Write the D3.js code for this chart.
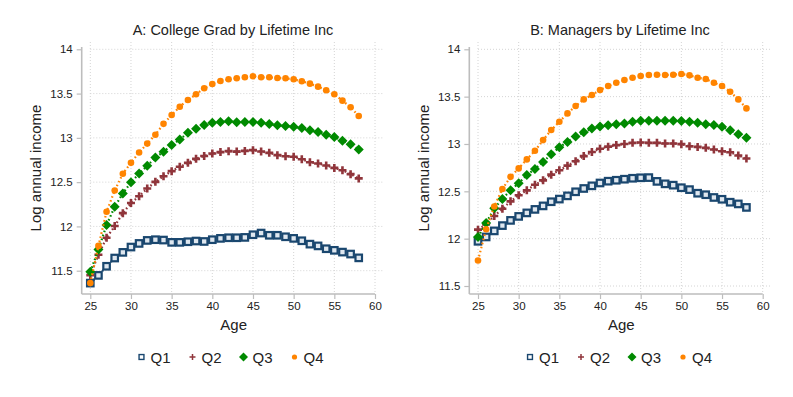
<!DOCTYPE html>
<html>
<head>
<meta charset="utf-8">
<script src="https://cdn.jsdelivr.net/npm/d3@7"></script>
<style>
  body { margin: 0; background: #fff; }
  text { font-family: "Liberation Sans", Arial, Helvetica, sans-serif; fill: #222; }
</style>
</head>
<body>
<div id="chart"></div>
<script>
// Data (log annual income by age, lifetime income quartile)

let ages = [25, 26, 27, 28, 29, 30, 31, 32, 33, 34, 35, 36, 37, 38, 39, 40, 41,
            42, 43, 44, 45, 46, 47, 48, 49, 50, 51, 52, 53, 54, 55, 56, 57, 58];

// Panel A: College grads
let gradQ1 = [11.36, 11.447, 11.55, 11.643, 11.707, 11.767, 11.808, 11.842, 11.85, 11.846, 11.82, 11.82,
              11.827, 11.835, 11.83, 11.85, 11.865, 11.872, 11.872, 11.876, 11.906, 11.925, 11.90, 11.90,
              11.883, 11.865, 11.838, 11.80, 11.78, 11.748, 11.73, 11.71, 11.688, 11.645];
let gradQ2 = [11.45, 11.68, 11.872, 12.004, 12.15, 12.265, 12.34, 12.428, 12.503, 12.567, 12.624, 12.673,
              12.718, 12.763, 12.795, 12.823, 12.839, 12.85, 12.845, 12.853, 12.861, 12.846, 12.831, 12.805,
              12.793, 12.786, 12.759, 12.725, 12.71, 12.688, 12.661, 12.635, 12.59, 12.542];
let gradQ3 = [11.487, 11.74, 12.015, 12.222, 12.372, 12.498, 12.597, 12.684, 12.778, 12.842, 12.918, 12.982,
              13.057, 13.104, 13.144, 13.17, 13.18, 13.188, 13.176, 13.18, 13.178, 13.17, 13.157, 13.142,
              13.135, 13.125, 13.11, 13.085, 13.065, 13.035, 13.01, 12.968, 12.927, 12.869];
let gradQ4 = [11.36, 11.78, 12.165, 12.405, 12.595, 12.718, 12.835, 12.935, 13.035, 13.158, 13.258, 13.352,
              13.428, 13.492, 13.56, 13.608, 13.642, 13.661, 13.673, 13.684, 13.695, 13.684, 13.684, 13.676,
              13.673, 13.661, 13.639, 13.612, 13.578, 13.537, 13.492, 13.42, 13.345, 13.247];

// Panel B: Managers
let mgrQ1 = [11.972, 12.018, 12.082, 12.138, 12.193, 12.235, 12.272, 12.309, 12.346, 12.39, 12.418, 12.452,
             12.495, 12.53, 12.558, 12.588, 12.607, 12.617, 12.628, 12.638, 12.643, 12.645, 12.605, 12.579,
             12.565, 12.538, 12.518, 12.48, 12.464, 12.435, 12.416, 12.385, 12.367, 12.33];
let mgrQ2 = [12.095, 12.15, 12.239, 12.316, 12.394, 12.458, 12.51, 12.57, 12.616, 12.676, 12.722, 12.771,
             12.817, 12.872, 12.915, 12.95, 12.972, 12.988, 13.0, 13.012, 13.015, 13.012, 13.012, 13.005,
             13.005, 12.998, 12.976, 12.969, 12.959, 12.941, 12.923, 12.913, 12.878, 12.846];
let mgrQ3 = [12.018, 12.166, 12.32, 12.42, 12.51, 12.586, 12.672, 12.735, 12.81, 12.892, 12.965, 13.022,
             13.079, 13.123, 13.164, 13.185, 13.198, 13.209, 13.216, 13.234, 13.245, 13.245, 13.245, 13.245,
             13.245, 13.243, 13.234, 13.224, 13.209, 13.2, 13.181, 13.146, 13.103, 13.067];
let mgrQ4 = [11.77, 12.1, 12.34, 12.525, 12.653, 12.742, 12.837, 12.928, 13.041, 13.147, 13.235, 13.323,
             13.401, 13.471, 13.517, 13.57, 13.612, 13.647, 13.675, 13.7, 13.718, 13.728, 13.731, 13.728,
             13.731, 13.739, 13.725, 13.7, 13.686, 13.647, 13.612, 13.552, 13.471, 13.376];

let seriesNames = ["Q1", "Q2", "Q3", "Q4"];
let xTicks = [25, 30, 35, 40, 45, 50, 55, 60];
let yTicks = [11.5, 12, 12.5, 13, 13.5, 14];
let yTickLabels = ["11.5", "12", "12.5", "13", "13.5", "14"];

// colors = [Q1, Q2, Q3, Q4]
let colors = ['#1a476f', '#90353b', '#008a00', '#ff8400'];

let svg = d3.select('#chart').append('svg')
    .attr('width', 793)
    .attr('height', 397)
    .attr('xmlns', 'http://www.w3.org/2000/svg');

svg.append('rect').attr('width', 793).attr('height', 397).attr('fill', '#fff');

let drawMarker = function(g, kind, color, x, y, big){
    /* Stata-like markers: hollow square, plus, diamond, dot */
    let s = big ? 1 : 0.75;
    if(kind === 0){
        let w = 6.5 * s;
        g.append('rect')
            .attr('x', x - w/2).attr('y', y - w/2)
            .attr('width', w).attr('height', w)
            .attr('fill', big ? '#dfe7ef' : '#fff')
            .attr('stroke', color)
            .attr('stroke-width', big ? 2.2 : 1.4);
    } else if(kind === 1){
        let a = 4 * s;
        g.append('path')
            .attr('d', 'M' + (x - a) + ',' + y + 'H' + (x + a) + 'M' + x + ',' + (y - a) + 'V' + (y + a))
            .attr('stroke', color)
            .attr('stroke-width', big ? 2.6 : 1.5)
            .attr('fill', 'none');
    } else if(kind === 2){
        let a = big ? 5 : 4.5;
        g.append('path')
            .attr('d', 'M' + x + ',' + (y - a) + 'L' + (x + a) + ',' + y + 'L' + x + ',' + (y + a) + 'L' + (x - a) + ',' + y + 'Z')
            .attr('fill', color);
    } else {
        g.append('circle')
            .attr('cx', x).attr('cy', y)
            .attr('r', big ? 3.3 : 2.6)
            .attr('fill', color);
    }
};

let drawPanel = function(p){
    let x = d3.scaleLinear().domain([25, 60]).range([p.x25, p.x60]);
    let y = d3.scaleLinear().domain([11.5, 14]).range([p.y115, p.y14]);
    let g = svg.append('g');

    // grid
    g.selectAll('.hgrid').data(yTicks).enter().append('line')
        .attr('x1', p.x25).attr('x2', p.gridRight)
        .attr('y1', d => y(d)).attr('y2', d => y(d))
        .attr('stroke', '#d4d4d4').attr('stroke-width', 1)
        .attr('stroke-dasharray', '1,2');
    g.selectAll('.vgrid').data(xTicks).enter().append('line')
        .attr('x1', d => x(d)).attr('x2', d => x(d))
        .attr('y1', p.top).attr('y2', p.bottom)
        .attr('stroke', '#d4d4d4').attr('stroke-width', 1)
        .attr('stroke-dasharray', '1,2');

    // axes
    let yAxis = g.append('g')
        .attr('transform', 'translate(' + p.axisX + ',0)')
        .call(d3.axisLeft(y).tickValues(yTicks).tickSize(5).tickPadding(4)
              .tickFormat((d, i) => yTickLabels[i]));
    yAxis.select('.domain').attr('d', 'M0,' + (p.top + 5) + 'V' + p.bottom);
    let xAxis = g.append('g')
        .attr('transform', 'translate(0,' + p.bottom + ')')
        .call(d3.axisBottom(x).tickValues(xTicks).tickSize(5).tickPadding(3));
    xAxis.select('.domain').attr('d', 'M' + p.axisX + ',0H' + p.x60);
    g.selectAll('.domain').attr('stroke', '#bdbdbd').attr('stroke-width', 1.6);
    g.selectAll('.tick line').attr('stroke', '#bdbdbd').attr('stroke-width', 1.2);
    g.selectAll('.tick text')
        .style('font-family', '"Liberation Sans", Arial, sans-serif')
        .style('font-size', '11.5px').attr('fill', '#333');

    // series: dotted connecting line then markers
    let line = d3.line().x((d, i) => x(ages[i])).y(d => y(d));
    p.series.forEach(function(vals, k){
        g.append('path')
            .datum(vals)
            .attr('d', line)
            .attr('fill', 'none')
            .attr('stroke', colors[k])
            .attr('stroke-width', 2.2)
            .attr('stroke-dasharray', '1.6,2.6');
        let mg = g.append('g');
        vals.forEach(function(v, i){
            drawMarker(mg, k, colors[k], x(ages[i]), y(v), true);
        });
    });

    // titles
    g.append('text')
        .attr('x', p.titleX).attr('y', 35)
        .attr('text-anchor', 'middle')
        .style('font-size', '14.5px')
        .text(p.title);
    g.append('text')
        .attr('transform', 'translate(' + p.ylabX + ',' + ((p.top + p.bottom) / 2) + ') rotate(-90)')
        .attr('text-anchor', 'middle')
        .style('font-size', '15px')
        .text('Log annual income');
    g.append('text')
        .attr('x', (p.x25 + p.x60) / 2 + 1).attr('y', 330)
        .attr('text-anchor', 'middle')
        .style('font-size', '15px')
        .text('Age');

    // legend
    seriesNames.forEach(function(name, k){
        let mx = p.legendX + k * 51;
        drawMarker(g, k, colors[k], mx, 357, false);
        g.append('text')
            .attr('x', mx + 9).attr('y', 362.5)
            .style('font-size', '15px')
            .text(name);
    });
};

drawPanel({
    title: 'A: College Grad by Lifetime Inc',
    series: [gradQ1, gradQ2, gradQ3, gradQ4],
    x25: 90.3, x60: 375, y115: 270.7, y14: 49.3,
    axisX: 81.7, top: 42, bottom: 294, gridRight: 384,
    titleX: 233, ylabX: 41, legendX: 141.5
});

drawPanel({
    title: 'B: Managers by Lifetime Inc',
    series: [mgrQ1, mgrQ2, mgrQ3, mgrQ4],
    x25: 478, x60: 762.7, y115: 286, y14: 49.3,
    axisX: 469.3, top: 42, bottom: 294, gridRight: 772,
    titleX: 620, ylabX: 429, legendX: 530
});
</script>
</body>
</html>
